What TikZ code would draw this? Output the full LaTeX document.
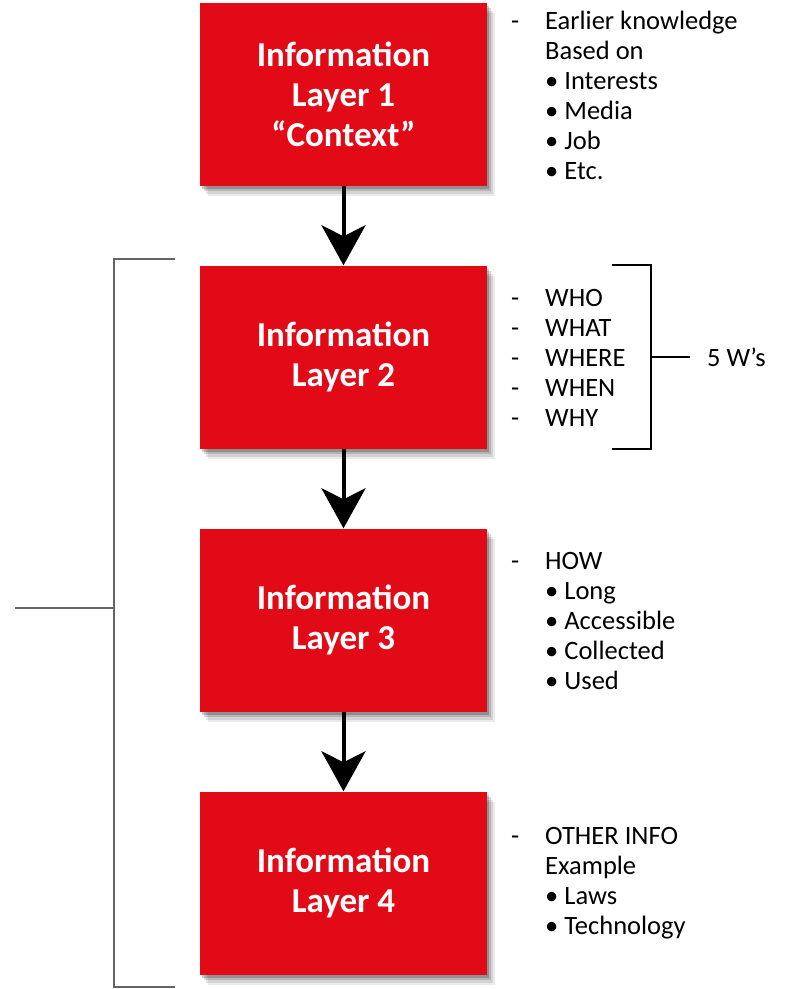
\documentclass[tikz,border=0pt]{standalone}
\usepackage{fontspec}
\setmainfont{Carlito}
\usetikzlibrary{arrows.meta,shadows}
\definecolor{boxred}{RGB}{226,10,22}
\definecolor{brgray}{RGB}{100,100,100}
\newcommand{\dsh}{\makebox[34pt][l]{-}}
\newcommand{\ind}{\hspace*{34pt}}
\newcommand{\bul}{\hspace*{34pt}\textbullet\ }
\begin{document}
\begin{tikzpicture}[x=1pt,y=-1pt,
  layerbox/.style={fill=boxred, minimum width=287pt, minimum height=183pt, inner sep=0pt,
    font=\bfseries\fontsize{35}{40}\selectfont, text=white, align=center,
    drop shadow={shadow xshift=8pt, shadow yshift=-10pt, fill=black, opacity=.08},
    drop shadow={shadow xshift=6pt, shadow yshift=-8pt, fill=black, opacity=.1},
    drop shadow={shadow xshift=4pt, shadow yshift=-5pt, fill=black, opacity=.15},
    drop shadow={shadow xshift=2pt, shadow yshift=-3pt, fill=black, opacity=.2}},
  notes/.style={anchor=west, inner sep=0pt, align=left, font=\fontsize{26.5}{30}\selectfont},
  flow/.style={line width=4pt, -{Stealth[length=40pt, width=44pt, inset=11pt]}},
  grp/.style={draw=brgray, line width=2pt},
  wbr/.style={draw=black, line width=2pt}]
\useasboundingbox (0,0) rectangle (792,989);

\node[layerbox] (L1) at (343.5,94.5) {Information\\Layer 1\\“Context”};
\node[layerbox] (L2) at (343.5,357) {Information\\Layer 2};
\node[layerbox] (L3) at (343.5,620) {Information\\Layer 3};
\node[layerbox] (L4) at (343.5,883) {Information\\Layer 4};

\draw[flow] (L1.south) -- (L2.north);
\draw[flow] (L2.south) -- (L3.north);
\draw[flow] (L3.south) -- (L4.north);

\node[notes] (N1) at (511,95.5) {\dsh Earlier knowledge\\ \ind Based on\\ \bul Interests\\ \bul Media\\ \bul Job\\ \bul Etc.};
\node[notes] (N2) at (511,357.5) {\dsh WHO\\ \dsh WHAT\\ \dsh WHERE\\ \dsh WHEN\\ \dsh WHY};
\node[notes] (N3) at (511,621) {\dsh HOW\\ \bul Long\\ \bul Accessible\\ \bul Collected\\ \bul Used};
\node[notes] (N4) at (511,883) {\dsh OTHER INFO\\ \ind Example\\ \bul Laws\\ \bul Technology};

% right brace for the 5 W's
\coordinate (rbt) at (612,265);
\coordinate (rbb) at (612,449);
\coordinate (rbm) at (651,357);
\coordinate (rbe) at (690,357);
\node[anchor=west, inner sep=0pt, font=\fontsize{26.5}{30}\selectfont] (W5) at (707,357) {5 W’s};
\draw[wbr] (rbt) -| (rbm) |- (rbb);
\draw[wbr] (rbm) -- (rbe);

% left grouping bracket
\coordinate (lbt) at (175,259);
\coordinate (lbb) at (175,987);
\coordinate (lbm) at (114,608);
\coordinate (lbe) at (15,608);
\draw[grp] (lbt) -| (lbm) |- (lbb);
\draw[grp] (lbm) -- (lbe);
\end{tikzpicture}
\end{document}
